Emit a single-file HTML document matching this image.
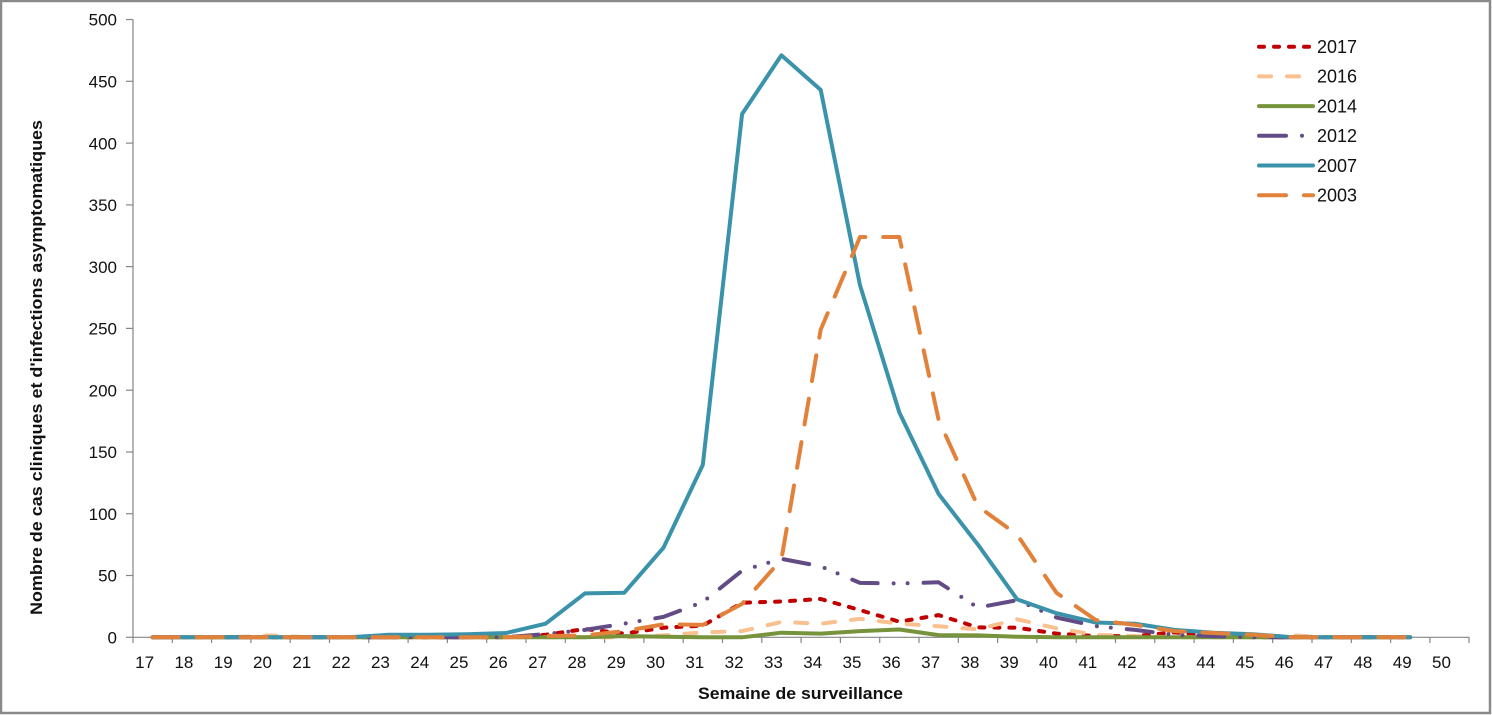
<!DOCTYPE html>
<html>
<head>
<meta charset="utf-8">
<style>
  html,body{margin:0;padding:0;background:#fff;}
  svg{display:block;}
  text{font-family:"Liberation Sans",sans-serif;fill:#111;}
</style>
</head>
<body>
<svg width="1492" height="715" viewBox="0 0 1492 715" xmlns="http://www.w3.org/2000/svg">
  <rect x="0" y="0" width="1492" height="715" fill="#fff"/>
  <!-- outer border -->
  <rect x="1" y="1" width="1489" height="712" fill="none" stroke="#8a8a8a" stroke-width="2.5"/>

  <!-- axes -->
  <g stroke="#868686" stroke-width="1.2" fill="none">
    <line x1="133" y1="19.5" x2="133" y2="637.3"/>
    <line x1="133" y1="637.3" x2="1469" y2="637.3"/>
    <!-- y ticks -->
    <line x1="126" y1="637.3" x2="133" y2="637.3"/>
    <line x1="126" y1="575.5" x2="133" y2="575.5"/>
    <line x1="126" y1="513.7" x2="133" y2="513.7"/>
    <line x1="126" y1="452.0" x2="133" y2="452.0"/>
    <line x1="126" y1="390.2" x2="133" y2="390.2"/>
    <line x1="126" y1="328.4" x2="133" y2="328.4"/>
    <line x1="126" y1="266.6" x2="133" y2="266.6"/>
    <line x1="126" y1="204.9" x2="133" y2="204.9"/>
    <line x1="126" y1="143.1" x2="133" y2="143.1"/>
    <line x1="126" y1="81.3" x2="133" y2="81.3"/>
    <line x1="126" y1="19.5" x2="133" y2="19.5"/>
    <!-- x ticks -->
    <path d="M133 637v6 M172.3 637v6 M211.6 637v6 M250.9 637v6 M290.2 637v6 M329.5 637v6 M368.8 637v6 M408.1 637v6 M447.4 637v6 M486.7 637v6 M526 637v6 M565.3 637v6 M604.6 637v6 M643.9 637v6 M683.2 637v6 M722.5 637v6 M761.8 637v6 M801.1 637v6 M840.4 637v6 M879.7 637v6 M919 637v6 M958.3 637v6 M997.6 637v6 M1036.9 637v6 M1076.2 637v6 M1115.5 637v6 M1154.8 637v6 M1194.1 637v6 M1233.4 637v6 M1272.7 637v6 M1312 637v6 M1351.3 637v6 M1390.6 637v6 M1429.9 637v6 M1469 637v6"/>
  </g>

  <!-- y tick labels -->
  <g font-size="17" text-anchor="end">
    <text x="117" y="643.5">0</text>
    <text x="117" y="581.7">50</text>
    <text x="117" y="519.9">100</text>
    <text x="117" y="458.2">150</text>
    <text x="117" y="396.4">200</text>
    <text x="117" y="334.6">250</text>
    <text x="117" y="272.8">300</text>
    <text x="117" y="211.1">350</text>
    <text x="117" y="149.3">400</text>
    <text x="117" y="87.5">450</text>
    <text x="117" y="25.7">500</text>
  </g>

  <!-- x tick labels -->
  <g font-size="17" text-anchor="middle">
    <text x="144.6" y="668">17</text>
    <text x="183.9" y="668">18</text>
    <text x="223.2" y="668">19</text>
    <text x="262.5" y="668">20</text>
    <text x="301.8" y="668">21</text>
    <text x="341.1" y="668">22</text>
    <text x="380.4" y="668">23</text>
    <text x="419.7" y="668">24</text>
    <text x="459" y="668">25</text>
    <text x="498.3" y="668">26</text>
    <text x="537.6" y="668">27</text>
    <text x="576.9" y="668">28</text>
    <text x="616.2" y="668">29</text>
    <text x="655.5" y="668">30</text>
    <text x="694.8" y="668">31</text>
    <text x="734.1" y="668">32</text>
    <text x="773.4" y="668">33</text>
    <text x="812.7" y="668">34</text>
    <text x="852" y="668">35</text>
    <text x="891.3" y="668">36</text>
    <text x="930.6" y="668">37</text>
    <text x="969.9" y="668">38</text>
    <text x="1009.2" y="668">39</text>
    <text x="1048.5" y="668">40</text>
    <text x="1087.8" y="668">41</text>
    <text x="1127.1" y="668">42</text>
    <text x="1166.4" y="668">43</text>
    <text x="1205.7" y="668">44</text>
    <text x="1245" y="668">45</text>
    <text x="1284.3" y="668">46</text>
    <text x="1323.6" y="668">47</text>
    <text x="1362.9" y="668">48</text>
    <text x="1402.2" y="668">49</text>
    <text x="1441.5" y="668">50</text>
  </g>

  <!-- axis titles -->
  <text x="800.5" y="699" font-size="17" font-weight="bold" text-anchor="middle" textLength="205" lengthAdjust="spacingAndGlyphs">Semaine de surveillance</text>
  <text transform="translate(42,367.5) rotate(-90)" font-size="17" font-weight="bold" text-anchor="middle" textLength="495" lengthAdjust="spacingAndGlyphs">Nombre de cas cliniques et d'infections asymptomatiques</text>

  <!-- series -->
  <g fill="none" stroke-width="4" stroke-linejoin="round">
    <!-- 2017 -->
    <polyline stroke="#C00000" stroke-linecap="round" stroke-dasharray="5 10"
      points="152.6,637.3 191.9,637.3 231.2,637.3 270.5,637.3 309.8,637.3 349.1,637.3 388.4,637.3 427.7,637.3 467,637.3 506.3,637.3 545.6,634.8 584.9,629 624.2,633.6 663.5,627.7 702.8,625.7 742.1,602.7 781.4,601.5 820.7,599 860,610.1 899.3,621.7 938.6,615.1 977.9,627.4 1017.2,627.7 1056.5,633.6 1095.8,636.1 1135.1,636.1 1174.4,632.4 1213.7,636.1 1253,637.3 1292.3,637.3 1331.6,637.3 1370.9,637.3 1410.2,637.3"/>
    <!-- 2016 -->
    <polyline stroke="#FAC090" stroke-linecap="round" stroke-dasharray="12 16"
      points="152.6,637.3 191.9,637.3 231.2,637.3 270.5,635.4 309.8,637.3 349.1,637.3 388.4,637.3 427.7,637.3 467,637.3 506.3,637.3 545.6,637.3 584.9,637.3 624.2,637.3 663.5,635.4 702.8,632.4 742.1,631.1 781.4,621.9 820.7,623.7 860,618.8 899.3,623.7 938.6,626.2 977.9,629.3 1017.2,619.3 1056.5,628.3 1095.8,634.8 1135.1,636.1 1174.4,637.3 1213.7,637.3 1253,637.3 1292.3,635.4 1331.6,637.3 1370.9,637.3 1410.2,637.3"/>
    <!-- 2014 -->
    <polyline stroke="#77933C" stroke-linecap="round"
      points="152.6,637.3 191.9,637.3 231.2,637.3 270.5,637.3 309.8,637.3 349.1,637.3 388.4,637.3 427.7,637.3 467,637.3 506.3,637.3 545.6,637.3 584.9,637.3 624.2,636.1 663.5,636.7 702.8,637.3 742.1,637.3 781.4,632.7 820.7,633.6 860,631.1 899.3,629.5 938.6,635.1 977.9,635.4 1017.2,636.7 1056.5,637.3 1095.8,637.3 1135.1,637.3 1174.4,637.3 1213.7,637.3 1253,637.3 1292.3,637.3 1331.6,637.3 1370.9,637.3 1410.2,637.3"/>
    <!-- 2012 -->
    <polyline stroke="#634C86" stroke-linecap="round" stroke-dasharray="26 16 0 14 0 16"
      points="152.6,637.3 191.9,637.3 231.2,637.3 270.5,637.3 309.8,637.3 349.1,637.3 388.4,637.3 427.7,637.3 467,637.3 506.3,637.3 545.6,634 584.9,629.9 624.2,623.7 663.5,616.9 702.8,602.1 742.1,570.6 781.4,558.8 820.7,566.3 860,582.9 899.3,583.5 938.6,582.3 977.9,607.6 1017.2,600.2 1056.5,617.5 1095.8,626.2 1135.1,629.9 1174.4,634.8 1213.7,636.1 1253,637.3 1292.3,637.3 1331.6,637.3 1370.9,637.3 1410.2,637.3"/>
    <!-- 2007 -->
    <polyline stroke="#3A93AA" stroke-linecap="round"
      points="152.6,637.3 191.9,637.3 231.2,637.3 270.5,637.3 309.8,637.3 349.1,637.3 388.4,634.8 427.7,634.8 467,634.2 506.3,633 545.6,623.7 584.9,593.4 624.2,592.8 663.5,547.7 702.8,464.9 742.1,114 781.4,55.3 820.7,89.9 860,285.2 899.3,412.4 938.6,494 977.9,544.6 1017.2,599.4 1056.5,613.2 1095.8,622.5 1135.1,623.7 1174.4,629.9 1213.7,632.7 1253,634.2 1292.3,637.3 1331.6,637.3 1370.9,637.3 1410.2,637.3"/>
    <!-- 2003 -->
    <polyline stroke="#E2813A" stroke-linecap="round" stroke-dasharray="26 18"
      points="152.6,637.3 191.9,637.3 231.2,637.3 270.5,637.3 309.8,637.3 349.1,637.3 388.4,637.3 427.7,637.3 467,637.3 506.3,637.3 545.6,636.1 584.9,635.4 624.2,631.1 663.5,624.3 702.8,624.9 742.1,603.9 781.4,559.5 820.7,329.6 860,237 899.3,237 938.6,419.8 977.9,506.3 1017.2,534.8 1056.5,592.8 1095.8,620 1135.1,624.9 1174.4,631.1 1213.7,633 1253,634.8 1292.3,637.3 1331.6,637.3 1370.9,637.3 1410.2,637.3"/>
  </g>

  <!-- legend -->
  <g fill="none" stroke-width="4">
    <line x1="1259" y1="46.7" x2="1313" y2="46.7" stroke="#C00000" stroke-linecap="round" stroke-dasharray="5 10"/>
    <line x1="1259" y1="76.4" x2="1313" y2="76.4" stroke="#FAC090" stroke-linecap="round" stroke-dasharray="12 16"/>
    <line x1="1259" y1="106.1" x2="1313" y2="106.1" stroke="#77933C" stroke-linecap="round"/>
    <line x1="1259" y1="135.8" x2="1313" y2="135.8" stroke="#634C86" stroke-linecap="round" stroke-dasharray="27 16 0 100"/>
    <line x1="1259" y1="165.5" x2="1313" y2="165.5" stroke="#3A93AA" stroke-linecap="round"/>
    <line x1="1259" y1="195.2" x2="1313" y2="195.2" stroke="#E2813A" stroke-linecap="round" stroke-dasharray="27 18"/>
  </g>
  <g font-size="18">
    <text x="1317" y="53">2017</text>
    <text x="1317" y="82.7">2016</text>
    <text x="1317" y="112.4">2014</text>
    <text x="1317" y="142.1">2012</text>
    <text x="1317" y="171.8">2007</text>
    <text x="1317" y="201.5">2003</text>
  </g>
</svg>
</body>
</html>
